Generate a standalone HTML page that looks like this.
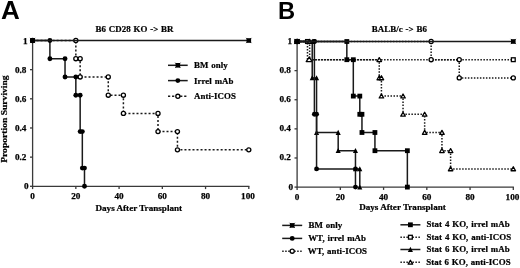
<!DOCTYPE html>
<html><head><meta charset="utf-8"><style>
html,body{margin:0;padding:0;background:#fff;}
body{width:520px;height:268px;overflow:hidden;}
svg{display:block;will-change:transform;}
.t{font-family:"Liberation Serif",serif;font-weight:bold;font-size:8.9px;fill:#000;stroke:#000;stroke-width:0.22px;word-spacing:0.5px;letter-spacing:0.06px;}
.tk{font-family:"Liberation Serif",serif;font-weight:bold;font-size:9.2px;fill:#000;stroke:#000;stroke-width:0.25px;}
.yl{font-family:"Liberation Serif",serif;font-weight:bold;font-size:8.9px;fill:#000;stroke:#000;stroke-width:0.22px;}
.xl{font-family:"Liberation Serif",serif;font-weight:bold;font-size:9.15px;fill:#000;stroke:#000;stroke-width:0.22px;}
.big{font-family:"Liberation Sans",sans-serif;font-weight:bold;font-size:25.6px;fill:#000;}
</style></head><body>
<svg width="520" height="268" viewBox="0 0 520 268">
<text transform="translate(0.9,18.5) scale(1.017,1)" class="big">A</text>
<text transform="translate(278.1,18.5) scale(0.96,1)" class="big" style="font-size:24.7px">B</text>
<text x="134.5" y="32" text-anchor="middle" class="t">B6 CD28 KO -&gt; BR</text>
<text x="399.4" y="32.3" text-anchor="middle" class="t">BALB/c -&gt; B6</text>
<text transform="translate(7.3,119.1) rotate(-90) scale(1.078,1)" text-anchor="middle" class="yl">Proportion Surviving</text>
<text x="138.8" y="211.2" text-anchor="middle" class="xl">Days After Transplant</text>
<text x="402.5" y="210" text-anchor="middle" class="xl">Days After Transplant</text>
<path d="M32.6,39.5 L32.6,186.3 L249.4,186.3" fill="none" stroke="#3a3a3a" stroke-width="1.3"/>
<line x1="30" y1="186.3" x2="32.6" y2="186.3" stroke="#3a3a3a" stroke-width="1.3"/>
<text x="28.5" y="189" text-anchor="end" class="tk">0</text>
<line x1="30" y1="157.14" x2="32.6" y2="157.14" stroke="#3a3a3a" stroke-width="1.3"/>
<text x="26.4" y="160" text-anchor="end" class="tk">0.2</text>
<line x1="30" y1="127.98" x2="32.6" y2="127.98" stroke="#3a3a3a" stroke-width="1.3"/>
<text x="26.4" y="131" text-anchor="end" class="tk">0.4</text>
<line x1="30" y1="98.82" x2="32.6" y2="98.82" stroke="#3a3a3a" stroke-width="1.3"/>
<text x="26.4" y="102" text-anchor="end" class="tk">0.6</text>
<line x1="30" y1="69.66" x2="32.6" y2="69.66" stroke="#3a3a3a" stroke-width="1.3"/>
<text x="26.4" y="73" text-anchor="end" class="tk">0.8</text>
<line x1="30" y1="40.5" x2="32.6" y2="40.5" stroke="#3a3a3a" stroke-width="1.3"/>
<text x="27.5" y="44" text-anchor="end" class="tk">1</text>
<line x1="32.6" y1="186.3" x2="32.6" y2="189.1" stroke="#3a3a3a" stroke-width="1.3"/>
<text x="32.6" y="199" text-anchor="middle" class="tk">0</text>
<line x1="75.84" y1="186.3" x2="75.84" y2="189.1" stroke="#3a3a3a" stroke-width="1.3"/>
<text x="75.84" y="199" text-anchor="middle" class="tk">20</text>
<line x1="119.08" y1="186.3" x2="119.08" y2="189.1" stroke="#3a3a3a" stroke-width="1.3"/>
<text x="119.08" y="199" text-anchor="middle" class="tk">40</text>
<line x1="162.32" y1="186.3" x2="162.32" y2="189.1" stroke="#3a3a3a" stroke-width="1.3"/>
<text x="162.32" y="199" text-anchor="middle" class="tk">60</text>
<line x1="205.56" y1="186.3" x2="205.56" y2="189.1" stroke="#3a3a3a" stroke-width="1.3"/>
<text x="205.56" y="199" text-anchor="middle" class="tk">80</text>
<line x1="248.8" y1="186.3" x2="248.8" y2="189.1" stroke="#3a3a3a" stroke-width="1.3"/>
<text x="248" y="199" text-anchor="middle" class="tk">100</text>

<path d="M297.1,40.5 L297.1,187.1 L513.9,187.1" fill="none" stroke="#3a3a3a" stroke-width="1.3"/>
<line x1="294.5" y1="187.1" x2="297.1" y2="187.1" stroke="#3a3a3a" stroke-width="1.3"/>
<text x="293" y="190" text-anchor="end" class="tk">0</text>
<line x1="294.5" y1="157.98" x2="297.1" y2="157.98" stroke="#3a3a3a" stroke-width="1.3"/>
<text x="290.9" y="160" text-anchor="end" class="tk">0.2</text>
<line x1="294.5" y1="128.86" x2="297.1" y2="128.86" stroke="#3a3a3a" stroke-width="1.3"/>
<text x="290.9" y="131" text-anchor="end" class="tk">0.4</text>
<line x1="294.5" y1="99.74" x2="297.1" y2="99.74" stroke="#3a3a3a" stroke-width="1.3"/>
<text x="290.9" y="102" text-anchor="end" class="tk">0.6</text>
<line x1="294.5" y1="70.62" x2="297.1" y2="70.62" stroke="#3a3a3a" stroke-width="1.3"/>
<text x="290.9" y="73" text-anchor="end" class="tk">0.8</text>
<line x1="294.5" y1="41.5" x2="297.1" y2="41.5" stroke="#3a3a3a" stroke-width="1.3"/>
<text x="292" y="44" text-anchor="end" class="tk">1</text>
<line x1="297.1" y1="187.1" x2="297.1" y2="189.9" stroke="#3a3a3a" stroke-width="1.3"/>
<text x="297.1" y="200" text-anchor="middle" class="tk">0</text>
<line x1="340.34" y1="187.1" x2="340.34" y2="189.9" stroke="#3a3a3a" stroke-width="1.3"/>
<text x="340.34" y="200" text-anchor="middle" class="tk">20</text>
<line x1="383.58" y1="187.1" x2="383.58" y2="189.9" stroke="#3a3a3a" stroke-width="1.3"/>
<text x="383.58" y="200" text-anchor="middle" class="tk">40</text>
<line x1="426.82" y1="187.1" x2="426.82" y2="189.9" stroke="#3a3a3a" stroke-width="1.3"/>
<text x="426.82" y="200" text-anchor="middle" class="tk">60</text>
<line x1="470.06" y1="187.1" x2="470.06" y2="189.9" stroke="#3a3a3a" stroke-width="1.3"/>
<text x="470.06" y="200" text-anchor="middle" class="tk">80</text>
<line x1="513.3" y1="187.1" x2="513.3" y2="189.9" stroke="#3a3a3a" stroke-width="1.3"/>
<text x="512.5" y="200" text-anchor="middle" class="tk">100</text>

<path d="M32.6,40.5 L75.84,40.5 L75.84,58.72 L80.16,58.72 L80.16,76.95 L108.27,76.95 L108.27,95.18 L123.4,95.18 L123.4,113.4 L158,113.4 L158,131.62 L177.45,131.62 L177.45,149.85 L248.8,149.85" fill="none" stroke="#1a1a1a" stroke-width="1.5" stroke-dasharray="2 2.02" stroke-dashoffset="0.09"/>
<circle cx="32.6" cy="40.5" r="2.05" fill="#fff" stroke="#000" stroke-width="1.3"/>
<circle cx="75.84" cy="40.5" r="2.05" fill="#fff" stroke="#000" stroke-width="1.3"/>
<circle cx="75.84" cy="58.72" r="2.05" fill="#fff" stroke="#000" stroke-width="1.3"/>
<circle cx="80.16" cy="58.72" r="2.05" fill="#fff" stroke="#000" stroke-width="1.3"/>
<circle cx="80.16" cy="76.95" r="2.05" fill="#fff" stroke="#000" stroke-width="1.3"/>
<circle cx="108.27" cy="76.95" r="2.05" fill="#fff" stroke="#000" stroke-width="1.3"/>
<circle cx="108.27" cy="95.18" r="2.05" fill="#fff" stroke="#000" stroke-width="1.3"/>
<circle cx="123.4" cy="95.18" r="2.05" fill="#fff" stroke="#000" stroke-width="1.3"/>
<circle cx="123.4" cy="113.4" r="2.05" fill="#fff" stroke="#000" stroke-width="1.3"/>
<circle cx="158" cy="113.4" r="2.05" fill="#fff" stroke="#000" stroke-width="1.3"/>
<circle cx="158" cy="131.62" r="2.05" fill="#fff" stroke="#000" stroke-width="1.3"/>
<circle cx="177.45" cy="131.62" r="2.05" fill="#fff" stroke="#000" stroke-width="1.3"/>
<circle cx="177.45" cy="149.85" r="2.05" fill="#fff" stroke="#000" stroke-width="1.3"/>
<circle cx="248.8" cy="149.85" r="2.05" fill="#fff" stroke="#000" stroke-width="1.3"/>

<path d="M32.6,40.5 L49.9,40.5 L49.9,58.72 L65.03,58.72 L65.03,76.95 L75.84,76.95 L75.84,95.18 L80.16,95.18 L80.16,131.62 L82.33,131.62 L82.33,168.08 L84.49,168.08 L84.49,186.3" fill="none" stroke="#1a1a1a" stroke-width="1.5"/>
<circle cx="32.6" cy="40.5" r="2.45" fill="#000"/>
<circle cx="49.9" cy="40.5" r="2.45" fill="#000"/>
<circle cx="49.9" cy="58.72" r="2.45" fill="#000"/>
<circle cx="65.03" cy="58.72" r="2.45" fill="#000"/>
<circle cx="65.03" cy="76.95" r="2.45" fill="#000"/>
<circle cx="75.84" cy="76.95" r="2.45" fill="#000"/>
<circle cx="75.84" cy="95.18" r="2.45" fill="#000"/>
<circle cx="80.16" cy="95.18" r="2.45" fill="#000"/>
<circle cx="80.16" cy="131.62" r="2.45" fill="#000"/>
<circle cx="82.33" cy="131.62" r="2.45" fill="#000"/>
<circle cx="82.33" cy="168.08" r="2.45" fill="#000"/>
<circle cx="84.49" cy="168.08" r="2.45" fill="#000"/>
<circle cx="84.49" cy="186.3" r="2.45" fill="#000"/>

<path d="M32.6,40.5 L248.8,40.5" fill="none" stroke="#1a1a1a" stroke-width="1.5"/>
<rect x="30.3" y="38.2" width="4.6" height="4.6" fill="#000"/><path d="M30,37.9 L35.2,43.1 M35.2,37.9 L30,43.1" stroke="#000" stroke-width="0.8"/>
<rect x="246.5" y="38.2" width="4.6" height="4.6" fill="#000"/><path d="M246.2,37.9 L251.4,43.1 M251.4,37.9 L246.2,43.1" stroke="#000" stroke-width="0.8"/>

<path d="M297.1,41.5 L307.48,41.5 L307.48,59.7 L513.3,59.7" fill="none" stroke="#1a1a1a" stroke-width="1.5" stroke-dasharray="1.5 1.51" stroke-dashoffset="0.18"/>
<rect x="295.2" y="39.6" width="3.8" height="3.8" fill="#fff" stroke="#000" stroke-width="1.3"/>
<rect x="305.58" y="39.6" width="3.8" height="3.8" fill="#fff" stroke="#000" stroke-width="1.3"/>
<rect x="511.4" y="57.8" width="3.8" height="3.8" fill="#fff" stroke="#000" stroke-width="1.3"/>

<path d="M297.1,41.5 L309.64,41.5 L309.64,59.7 L379.26,59.7 L379.26,77.9 L381.42,77.9 L381.42,96.1 L403.04,96.1 L403.04,114.3 L424.66,114.3 L424.66,132.5 L441.95,132.5 L441.95,150.7 L450.6,150.7 L450.6,168.9 L513.3,168.9" fill="none" stroke="#1a1a1a" stroke-width="1.5" stroke-dasharray="1.5 1.51" stroke-dashoffset="2.51"/>
<path d="M297.1,39.4 L299.35,43.35 L294.85,43.35 Z" fill="#fff" stroke="#000" stroke-width="1.3" stroke-linejoin="round"/>
<path d="M309.64,39.4 L311.89,43.35 L307.39,43.35 Z" fill="#fff" stroke="#000" stroke-width="1.3" stroke-linejoin="round"/>
<path d="M379.26,57.6 L381.51,61.55 L377.01,61.55 Z" fill="#fff" stroke="#000" stroke-width="1.3" stroke-linejoin="round"/>
<path d="M379.26,75.8 L381.51,79.75 L377.01,79.75 Z" fill="#fff" stroke="#000" stroke-width="1.3" stroke-linejoin="round"/>
<path d="M381.42,75.8 L383.67,79.75 L379.17,79.75 Z" fill="#fff" stroke="#000" stroke-width="1.3" stroke-linejoin="round"/>
<path d="M381.42,94 L383.67,97.95 L379.17,97.95 Z" fill="#fff" stroke="#000" stroke-width="1.3" stroke-linejoin="round"/>
<path d="M403.04,94 L405.29,97.95 L400.79,97.95 Z" fill="#fff" stroke="#000" stroke-width="1.3" stroke-linejoin="round"/>
<path d="M403.04,112.2 L405.29,116.15 L400.79,116.15 Z" fill="#fff" stroke="#000" stroke-width="1.3" stroke-linejoin="round"/>
<path d="M424.66,112.2 L426.91,116.15 L422.41,116.15 Z" fill="#fff" stroke="#000" stroke-width="1.3" stroke-linejoin="round"/>
<path d="M424.66,130.4 L426.91,134.35 L422.41,134.35 Z" fill="#fff" stroke="#000" stroke-width="1.3" stroke-linejoin="round"/>
<path d="M441.95,130.4 L444.2,134.35 L439.7,134.35 Z" fill="#fff" stroke="#000" stroke-width="1.3" stroke-linejoin="round"/>
<path d="M441.95,148.6 L444.2,152.55 L439.7,152.55 Z" fill="#fff" stroke="#000" stroke-width="1.3" stroke-linejoin="round"/>
<path d="M450.6,148.6 L452.85,152.55 L448.35,152.55 Z" fill="#fff" stroke="#000" stroke-width="1.3" stroke-linejoin="round"/>
<path d="M450.6,166.8 L452.85,170.75 L448.35,170.75 Z" fill="#fff" stroke="#000" stroke-width="1.3" stroke-linejoin="round"/>
<path d="M513.3,166.8 L515.55,170.75 L511.05,170.75 Z" fill="#fff" stroke="#000" stroke-width="1.3" stroke-linejoin="round"/>

<path d="M309.2,57.1 L312.2,61.6 L306.2,61.6 Z" fill="#fff" stroke="#000" stroke-width="1.3" stroke-linejoin="round"/>
<path d="M297.1,41.5 L312.23,41.5 L312.23,77.9 L316.56,77.9 L316.56,132.5 L338.18,132.5 L338.18,150.7 L355.47,150.7 L355.47,168.9 L359.8,168.9 L359.8,187.1" fill="none" stroke="#1a1a1a" stroke-width="1.5"/>
<path d="M297.1,38.8 L299.65,43.9 L294.55,43.9 Z" fill="#000"/>
<path d="M312.23,38.8 L314.78,43.9 L309.68,43.9 Z" fill="#000"/>
<path d="M312.23,75.2 L314.78,80.3 L309.68,80.3 Z" fill="#000"/>
<path d="M316.56,75.2 L319.11,80.3 L314.01,80.3 Z" fill="#000"/>
<path d="M316.56,129.8 L319.11,134.9 L314.01,134.9 Z" fill="#000"/>
<path d="M338.18,129.8 L340.73,134.9 L335.63,134.9 Z" fill="#000"/>
<path d="M338.18,148 L340.73,153.1 L335.63,153.1 Z" fill="#000"/>
<path d="M355.47,148 L358.02,153.1 L352.92,153.1 Z" fill="#000"/>
<path d="M355.47,166.2 L358.02,171.3 L352.92,171.3 Z" fill="#000"/>
<path d="M359.8,166.2 L362.35,171.3 L357.25,171.3 Z" fill="#000"/>
<path d="M359.8,184.4 L362.35,189.5 L357.25,189.5 Z" fill="#000"/>

<path d="M297.1,41.5 L346.83,41.5 L346.83,59.7 L353.31,59.7 L353.31,96.1 L359.8,96.1 L359.8,114.3 L361.96,114.3 L361.96,132.5 L374.93,132.5 L374.93,150.7 L407.36,150.7 L407.36,187.1" fill="none" stroke="#1a1a1a" stroke-width="1.5"/>
<rect x="294.7" y="39.1" width="4.8" height="4.8" fill="#000"/>
<rect x="344.43" y="39.1" width="4.8" height="4.8" fill="#000"/>
<rect x="344.43" y="57.3" width="4.8" height="4.8" fill="#000"/>
<rect x="350.91" y="57.3" width="4.8" height="4.8" fill="#000"/>
<rect x="350.91" y="93.7" width="4.8" height="4.8" fill="#000"/>
<rect x="357.4" y="93.7" width="4.8" height="4.8" fill="#000"/>
<rect x="357.4" y="111.9" width="4.8" height="4.8" fill="#000"/>
<rect x="359.56" y="111.9" width="4.8" height="4.8" fill="#000"/>
<rect x="359.56" y="130.1" width="4.8" height="4.8" fill="#000"/>
<rect x="372.53" y="130.1" width="4.8" height="4.8" fill="#000"/>
<rect x="372.53" y="148.3" width="4.8" height="4.8" fill="#000"/>
<rect x="404.96" y="148.3" width="4.8" height="4.8" fill="#000"/>
<rect x="404.96" y="184.7" width="4.8" height="4.8" fill="#000"/>

<path d="M297.1,41.5 L431.14,41.5 L431.14,59.7 L459.25,59.7 L459.25,77.9 L513.3,77.9" fill="none" stroke="#1a1a1a" stroke-width="1.5" stroke-dasharray="1.5 1.51" stroke-dashoffset="0.52"/>
<circle cx="297.1" cy="41.5" r="2.05" fill="#fff" stroke="#000" stroke-width="1.3"/>
<circle cx="431.14" cy="41.5" r="2.05" fill="#fff" stroke="#000" stroke-width="1.3"/>
<circle cx="431.14" cy="59.7" r="2.05" fill="#fff" stroke="#000" stroke-width="1.3"/>
<circle cx="459.25" cy="59.7" r="2.05" fill="#fff" stroke="#000" stroke-width="1.3"/>
<circle cx="459.25" cy="77.9" r="2.05" fill="#fff" stroke="#000" stroke-width="1.3"/>
<circle cx="513.3" cy="77.9" r="2.05" fill="#fff" stroke="#000" stroke-width="1.3"/>

<path d="M297.1,41.5 L314.4,41.5 L314.4,114.3 L316.56,114.3 L316.56,168.9 L355.47,168.9 L355.47,187.1" fill="none" stroke="#1a1a1a" stroke-width="1.5"/>
<circle cx="297.1" cy="41.5" r="2.45" fill="#000"/>
<circle cx="314.4" cy="41.5" r="2.45" fill="#000"/>
<circle cx="314.4" cy="114.3" r="2.45" fill="#000"/>
<circle cx="316.56" cy="114.3" r="2.45" fill="#000"/>
<circle cx="316.56" cy="168.9" r="2.45" fill="#000"/>
<circle cx="355.47" cy="168.9" r="2.45" fill="#000"/>
<circle cx="355.47" cy="187.1" r="2.45" fill="#000"/>

<circle cx="314.4" cy="41.5" r="2.45" fill="#000"/>
<path d="M297.1,41.5 L513.3,41.5" fill="none" stroke="#1a1a1a" stroke-width="1.5"/>
<rect x="294.8" y="39.2" width="4.6" height="4.6" fill="#000"/><path d="M294.5,38.9 L299.7,44.1 M299.7,38.9 L294.5,44.1" stroke="#000" stroke-width="0.8"/>
<rect x="511" y="39.2" width="4.6" height="4.6" fill="#000"/><path d="M510.7,38.9 L515.9,44.1 M515.9,38.9 L510.7,44.1" stroke="#000" stroke-width="0.8"/>

<line x1="168" y1="65.3" x2="187.7" y2="65.3" stroke="#1a1a1a" stroke-width="1.5"/>
<rect x="175.55" y="63" width="4.6" height="4.6" fill="#000"/><path d="M175.25,62.7 L180.45,67.9 M180.45,62.7 L175.25,67.9" stroke="#000" stroke-width="0.8"/>
<text x="194" y="68" class="t">BM only</text>

<line x1="168" y1="80.6" x2="187.7" y2="80.6" stroke="#1a1a1a" stroke-width="1.5"/>
<circle cx="177.85" cy="80.6" r="2.45" fill="#000"/>
<text x="194" y="84" class="t">Irrel mAb</text>

<line x1="168" y1="96.3" x2="187.7" y2="96.3" stroke="#1a1a1a" stroke-width="1.5" stroke-dasharray="2.2 1.85"/>
<circle cx="177.85" cy="96.3" r="2.05" fill="#fff" stroke="#000" stroke-width="1.3"/>
<text x="194" y="99" class="t">Anti-ICOS</text>

<line x1="282.2" y1="225.4" x2="302.2" y2="225.4" stroke="#1a1a1a" stroke-width="1.5"/>
<rect x="289.9" y="223.1" width="4.6" height="4.6" fill="#000"/><path d="M289.6,222.8 L294.8,228 M294.8,222.8 L289.6,228" stroke="#000" stroke-width="0.8"/>
<text x="308.6" y="228" class="t">BM only</text>

<line x1="282.2" y1="238.4" x2="302.2" y2="238.4" stroke="#1a1a1a" stroke-width="1.5"/>
<circle cx="292.2" cy="238.4" r="2.45" fill="#000"/>
<text x="308.2" y="241" class="t">WT, irrel mAb</text>

<line x1="282.2" y1="251.2" x2="302.2" y2="251.2" stroke="#1a1a1a" stroke-width="1.5" stroke-dasharray="1.5 1.5"/>
<circle cx="292.2" cy="251.2" r="2.05" fill="#fff" stroke="#000" stroke-width="1.3"/>
<text x="307.8" y="254" class="t">WT, anti-ICOS</text>

<line x1="400.4" y1="224.8" x2="420.4" y2="224.8" stroke="#1a1a1a" stroke-width="1.5"/>
<rect x="408" y="222.4" width="4.8" height="4.8" fill="#000"/>
<text x="426.6" y="227" class="t">Stat 4 KO, irrel mAb</text>

<line x1="400.4" y1="237.2" x2="420.4" y2="237.2" stroke="#1a1a1a" stroke-width="1.5" stroke-dasharray="1.5 1.5"/>
<rect x="408.5" y="235.3" width="3.8" height="3.8" fill="#fff" stroke="#000" stroke-width="1.3"/>
<text x="426.6" y="240" class="t">Stat 4 KO, anti-ICOS</text>

<line x1="400.4" y1="249.5" x2="420.4" y2="249.5" stroke="#1a1a1a" stroke-width="1.5"/>
<path d="M410.4,246.8 L412.95,251.9 L407.85,251.9 Z" fill="#000"/>
<text x="426.6" y="252" class="t">Stat 6 KO, irrel mAb</text>

<line x1="400.4" y1="262.3" x2="420.4" y2="262.3" stroke="#1a1a1a" stroke-width="1.5" stroke-dasharray="1.5 1.5"/>
<path d="M410.4,260.2 L412.65,264.15 L408.15,264.15 Z" fill="#fff" stroke="#000" stroke-width="1.3" stroke-linejoin="round"/>
<text x="426.2" y="265" class="t">Stat 6 KO, anti-ICOS</text>

</svg>
</body></html>
